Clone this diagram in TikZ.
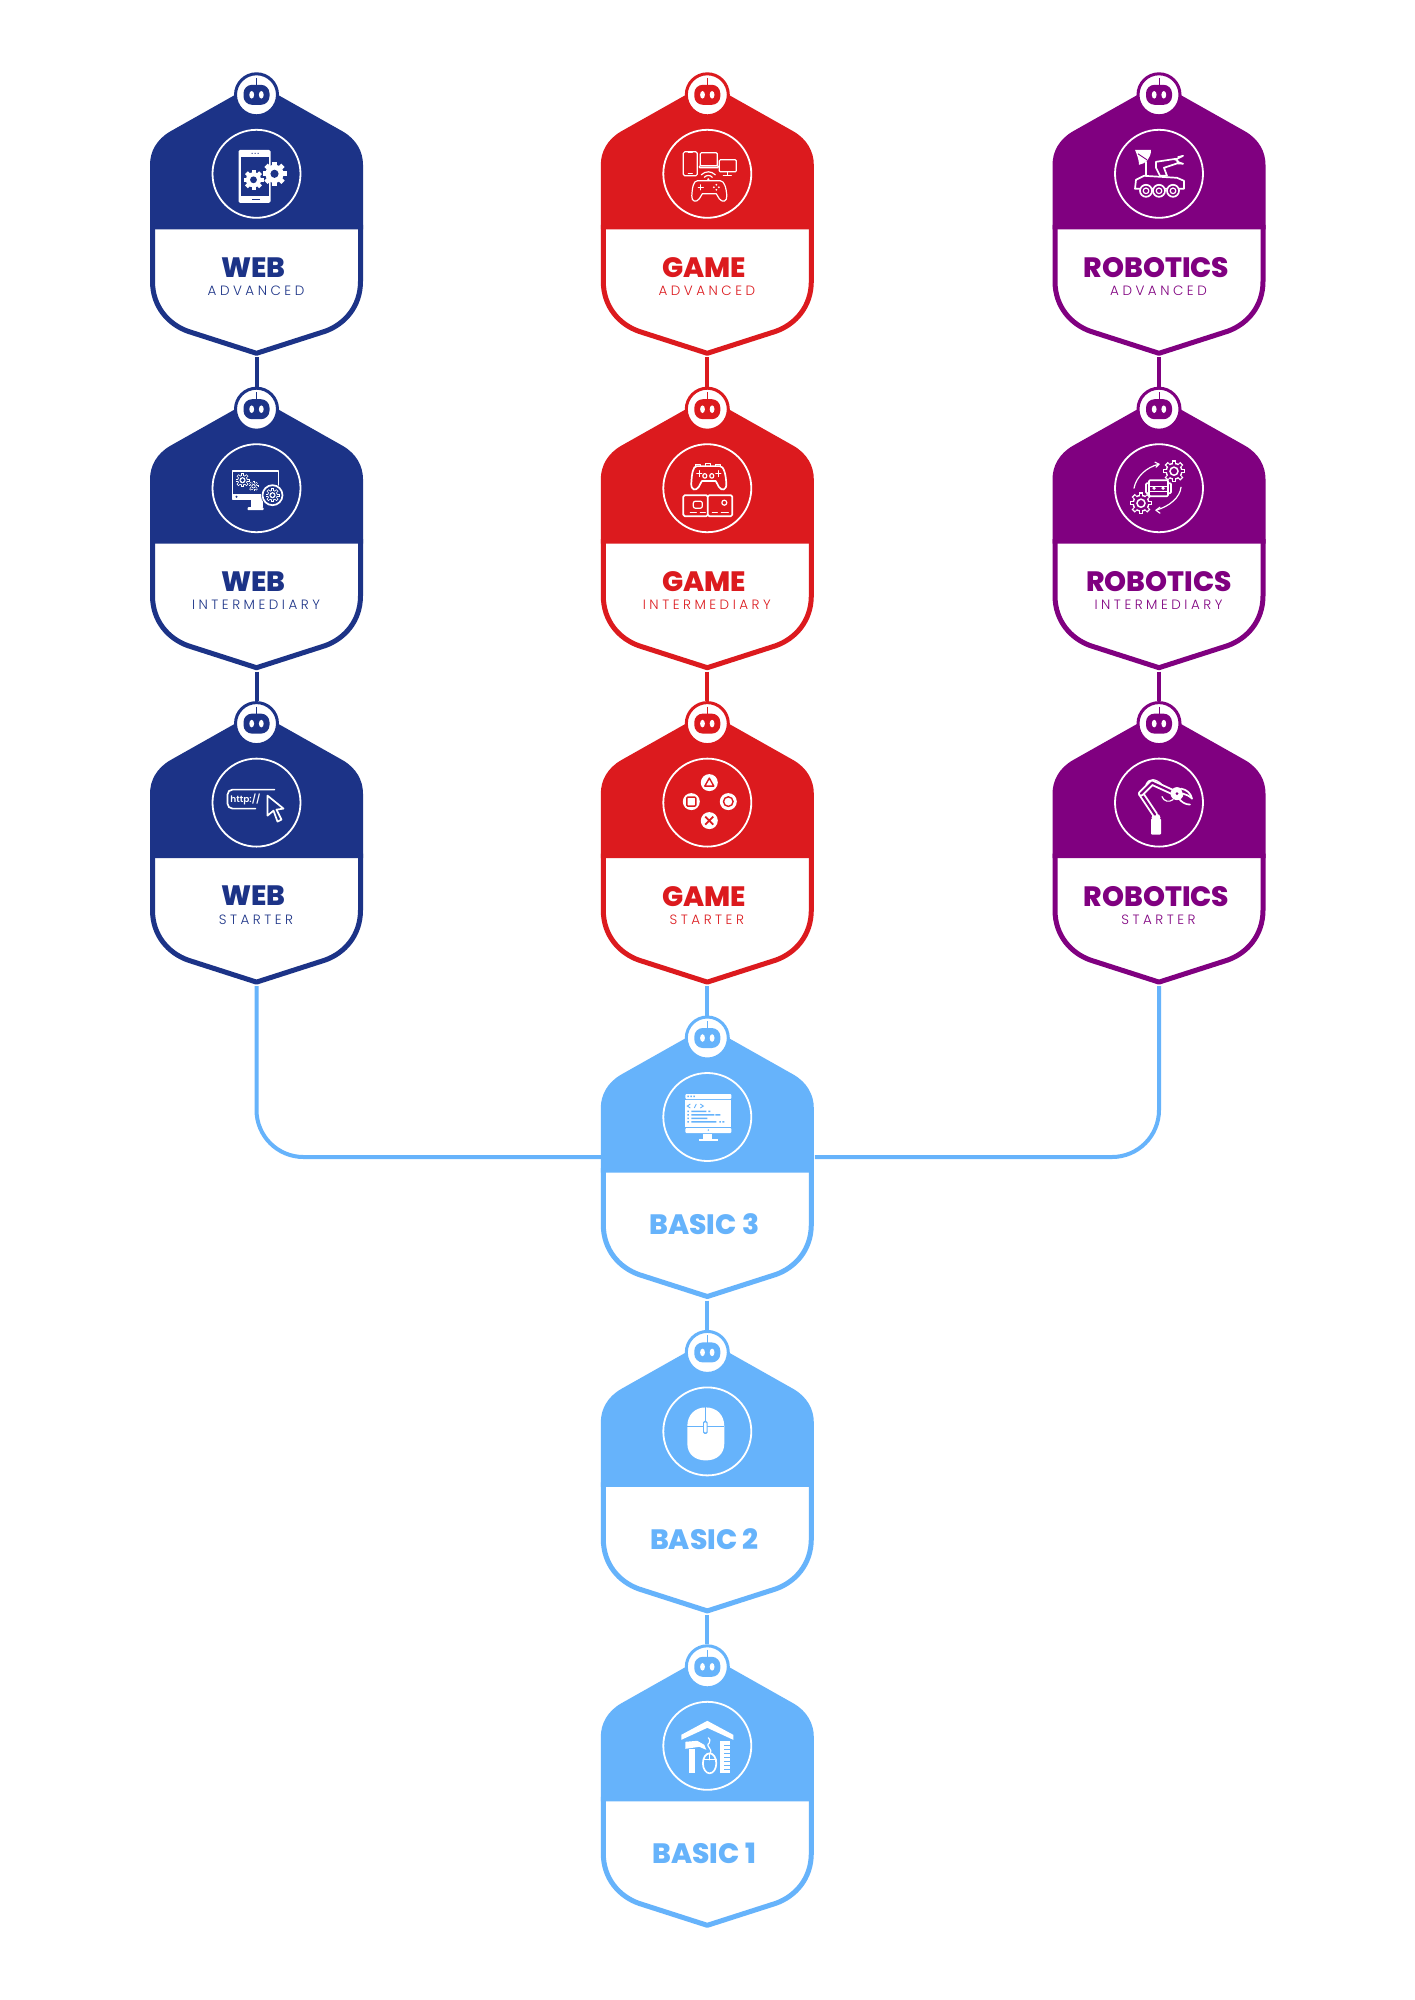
\documentclass[tikz,border=0pt]{standalone}
\usepackage{fontspec}
\setmainfont{Poppins}
\newfontfamily\titlefont{Poppins ExtraBold}
\newfontfamily\subfont[LetterSpace=26]{Poppins Light}
\newfontfamily\httpfont{Poppins SemiBold}
\definecolor{webblue}{HTML}{1C3387}
\definecolor{gamered}{HTML}{DC1A1E}
\definecolor{robopurple}{HTML}{800080}
\definecolor{basicblue}{HTML}{66B3FB}
\tikzset{
  titlelabel/.style={inner sep=0pt,font=\titlefont\fontsize{28}{28}\selectfont},
  sublabel/.style={inner sep=0pt,font=\subfont\fontsize{13.5}{14}\selectfont},
  ringnode/.style={circle,minimum size=42pt,inner sep=0pt,fill=white,line width=3pt},
  iconring/.style={draw=white,line width=1.8pt},
  ol/.style={draw=white,line width=1.2pt,line join=round,line cap=round},
  olb/.style={draw=white,line width=1.7pt,line join=round,line cap=round},
  link/.style={line width=4pt},
}
% filled gear
\newcommand\gearF[3]{\begin{scope}[shift={(#1,#2)}]
  \foreach \a in {0,45,...,315}{\fill[white,rotate=\a] (-.2*#3,.5*#3) rectangle (.2*#3,#3);}
  \fill[white] (0,0) circle ({.76*#3});
  \fill[bc] (0,0) circle ({.34*#3});
\end{scope}}
% outlined gear
\newcommand\gearO[3]{\begin{scope}[shift={(#1,#2)}]
  \foreach \a in {0,45,...,315}{\fill[white,rotate=\a] (-.2*#3,.5*#3) rectangle (.2*#3,#3);}
  \fill[white] (0,0) circle ({.78*#3});
  \foreach \a in {0,45,...,315}{\fill[bc,rotate=\a] (-.1*#3,.5*#3) rectangle (.1*#3,.88*#3);}
  \fill[bc] (0,0) circle ({.64*#3});
  \fill[white] (0,0) circle ({.44*#3});
  \fill[bc] (0,0) circle ({.28*#3});
\end{scope}}
% outlined gamepad, local origin at centre
\newcommand\padshape{(-11,-10.5) -- (12,-10.5) .. controls (16,-10.5) and (18,-3.5) .. (18.5,4.5) .. controls (19,10.5) and (14,11.5) .. (11,7.5) -- (8,2.5) -- (-6,2.5) -- (-9,7.5) .. controls (-12,11.5) and (-17,10.5) .. (-16.5,4.5) .. controls (-16,-3.5) and (-15,-10.5) .. (-11,-10.5) -- cycle}
% ---- icons, in pixels round the centre of the ring
\newcommand\iconphone{
  \fill[white,rounded corners=1.5pt] (-18,-24) rectangle (14,29);
  \fill[bc] (-16,-17) rectangle (12,22);
  \fill[bc] (-5,-21) rectangle (-4,-20) (-2,-21) rectangle (-1,-20) (1,-21) rectangle (2,-20);
  \fill[bc] (-5,25) rectangle (3,26);
  \gearF{-3}{6}{10}\gearF{18}{0}{12}
}
\newcommand\icondevices{
  \draw[ol,rounded corners=1.5pt] (-24,-22) rectangle (-10,2);
  \draw[ol] (-19,-21) -- (-15,-21) (-19,0) -- (-15,0);
  \draw[ol,rounded corners=1pt] (-7,-21) rectangle (10,-8);
  \draw[ol,rounded corners=.8pt] (-8,-8) rectangle (11,-6);
  \draw[ol,rounded corners=1pt] (12,-14) rectangle (29,-2);
  \draw[ol] (20,-2) -- (20,1) (16,2) -- (24,2);
  \draw[ol] (-6,1) .. controls (-2,-3) and (4,-3) .. (8,1);
  \draw[ol] (-3,3.5) .. controls (-1,1) and (3,1) .. (5,3.5);
  \fill[white] (1,5.5) circle (1.2);
  \begin{scope}[shift={(1,17.5)}]
    \draw[ol] \padshape;
    \draw[ol] (-10,-4) -- (-5,-4) (-7.5,-6.5) -- (-7.5,-1.5);
    \fill[white] (8,-6.5) circle (1) (8,-1.5) circle (1) (5.5,-4) circle (1) (10.5,-4) circle (1);
  \end{scope}
}
\newcommand\iconrover{
  \fill[white] (-24,-24) -- (-8,-24) .. controls (-8,-16) and (-13,-10) .. (-20,-9) .. controls (-20,-14) and (-22,-19) .. (-24,-24) -- cycle;
  \draw[bc,line width=.9pt] (-21,-20) -- (-12,-14);
  \draw[olb] (-13,-12) -- (-13,2);
  \draw[olb,fill=bc] (-3,-12) -- (17,-15) -- (20,-11) -- (5,-6) -- (8,2) -- (1,2) -- (-3,-6) -- cycle;
  \draw[olb] (16,-14) -- (24,-18) (18,-12) -- (24,-10);
  \draw[ol] (24,-18) -- (19,-17) (24,-10) -- (19,-10);
  \draw[olb,fill=bc] (-24,15) -- (-23,6) -- (-15,2) -- (18,4) -- (25,7) -- (25,15) -- cycle;
  \foreach \wx in {-13,0,14}{
    \draw[olb,fill=bc] (\wx,17) circle (6);
    \draw[ol] (\wx,17) circle (2.8);
  }
}
\newcommand\iconscreen{
  \draw[olb] (-24,-17) rectangle (22,11);
  \fill[white] (-24,6) rectangle (22,11);
  \fill[bc] (-20,8.5) circle (1.2);
  \fill[white] (-6,11) rectangle (6,19);
  \fill[white,rounded corners=.8pt] (-9,19) rectangle (7,22);
  \gearO{-14}{-8}{7}\gearO{-3}{-2}{5}
  \fill[bc] (16,7) circle (11.5);
  \draw[olb] (16,7) circle (10);
  \gearO{16}{7}{7}
}
\newcommand\iconconsole{
  \draw[olb,rounded corners=1.5pt] (-24,7) rectangle (0.5,28) (0.5,7) rectangle (25,28);
  \draw[ol,rounded corners=2pt] (-14,13) rectangle (-5,20);
  \draw[ol] (-17,24) -- (-11,24) (-7,24) -- (-2,24) (5,24) -- (10,24) (14,24) -- (21,24);
  \draw[ol] (17,14.5) circle (2.5);
  \begin{scope}[shift={(0.5,-10)},yscale=1.15]
    \draw[olb,fill=bc] \padshape;
    \draw[ol] (-11,-4) -- (-6,-4) (-8.5,-6.5) -- (-8.5,-1.5) (8,-4) -- (13,-4) (10.5,-6.5) -- (10.5,-1.5);
    \draw[ol] (-3,-2) circle (2) (4,-2) circle (2);
    \draw[ol] (-12,-12) rectangle (-7,-10.5) (8,-12) rectangle (13,-10.5) (-2,-13) rectangle (3,-10.5);
  \end{scope}
}
\newcommand\iconrobot{
  \draw[ol] (-25,0) .. controls (-23,-11) and (-13,-21) .. (0,-24);
  \draw[ol] (-4,-26) -- (0,-24) -- (-3,-21);
  \draw[ol] (22,-1) .. controls (21,9) and (11,18) .. (-3,22);
  \draw[ol] (1,19) -- (-3,22) -- (1,25);
  \gearO{15}{-17}{11}\gearO{-18}{15}{11}
  \draw[olb,fill=bc,rounded corners=1pt] (-13,-5) rectangle (12,5);
  \draw[olb,fill=bc,rounded corners=1pt] (-10,-8) rectangle (9,8);
  \draw[ol] (-10,-2) rectangle (9,3);
  \fill[white] (-5,0) circle (1.8) (4,0) circle (1.8);
}
\newcommand\iconhttp{
  \draw[olb,rounded corners=5pt] (18,-13) -- (-29,-13) -- (-29,6) -- (-1,6);
  \node[inner sep=0pt,text=white,font=\httpfont\fontsize{9}{9}\selectfont] (httplabel) at (-11,-3.5) {http://};
  \draw[olb,fill=bc] (11,-7) -- (11,13) -- (17,8) -- (21,19) -- (25,17) -- (20,7) -- (27,6) -- cycle;
}
\newcommand\iconbuttons{
  \fill[white] (2,-20) circle (8.5) (-16,-1) circle (8.5) (21,-1) circle (8.5) (2,18) circle (8.5);
  \draw[bc,line width=1.4pt,line join=round] (2,-24.5) -- (6.5,-16.5) -- (-2.5,-16.5) -- cycle;
  \draw[bc,line width=1.4pt,rounded corners=1pt] (-20.5,-5.5) rectangle (-11.5,3.5);
  \draw[bc,line width=1.4pt] (21,-1) circle (4.8);
  \draw[bc,line width=1.8pt] (-2,14) -- (6,22) (6,14) -- (-2,22);
}
\newcommand\iconarm{
  \fill[white,rounded corners=1pt] (-8,16) rectangle (2,32);
  \fill[white] (-3,15) ellipse (4.5 and 4);
  \draw[white,line width=6pt,line cap=round] (-4,12) -- (-18,-9);
  \draw[bc,line width=2.2pt,line cap=round] (-4,12) -- (-18,-9);
  \draw[white,line width=6pt,line cap=round,line join=round] (-18,-9) -- (-7,-20) -- (17,-9);
  \draw[bc,line width=2.2pt,line cap=round,line join=round] (-18,-9) -- (-7,-20) -- (17,-9);
  \draw[ol] (-13,-18) .. controls (-10,-25) and (-3,-24) .. (3,-18);
  \draw[ol] (3,-6) .. controls (5,-1) and (10,0) .. (14,-3);
  \fill[white] (18,-9) circle (6.5);
  \fill[bc] (18,-9) circle (1.5);
  \draw[olb,fill=bc] (22,-14) .. controls (28,-13) and (32,-9) .. (33,-4) .. controls (30,-7) and (27,-8) .. (24,-9);
  \draw[olb] (20,-4) .. controls (22,-1) and (26,2) .. (31,2);
}
\newcommand\iconcode{
  \fill[white,rounded corners=1pt] (-22,-23) rectangle (24,-18);
  \fill[bc] (-20,-21.5) rectangle (-18.5,-20) (-17,-21.5) rectangle (-15.5,-20) (-14,-21.5) rectangle (-12.5,-20);
  \fill[white] (-22,-17) rectangle (24,10);
  \fill[white,rounded corners=1pt] (-22,11) rectangle (24,16);
  \fill[bc] (1,13) circle (.8);
  \draw[bc,line width=.9pt] (-17,-13) -- (-20,-11) -- (-17,-9) (-13,-9) -- (-11,-13) (-7,-13) -- (-4,-11) -- (-7,-9);
  \fill[bc] (-20,-6.5) rectangle (-18.5,-5) (-16,-6.5) rectangle (-1,-5) (1,-6.5) rectangle (3,-5)
    (-20,-3) rectangle (-18.5,-1.5) (-16,-3) rectangle (7,-1.5) (8,-3) rectangle (13,-1.5)
    (-20,.5) rectangle (-18.5,2) (-16,.5) rectangle (0,2)
    (-20,4) rectangle (-18.5,5.5) (-16,4) rectangle (9,5.5) (12,4) rectangle (13.5,5.5) (15,4) rectangle (17,5.5);
  \fill[white] (-4,17) rectangle (5,22);
  \fill[white] (-8,22) rectangle (11,24);
}
\newcommand\iconmouse{
  \fill[white] (-20,-5) .. controls (-20,-17) and (-12,-24) .. (-1.5,-24) .. controls (9,-24) and (17,-17) .. (17,-5) -- (17,12) .. controls (17,23) and (9,29) .. (-1.5,29) .. controls (-12,29) and (-20,23) .. (-20,12) -- cycle;
  \draw[bc,line width=1pt] (-20,-5) -- (17,-5) (-2,-24) -- (-2,-10);
  \fill[bc,rounded corners=1.5pt] (-4.3,-10.5) rectangle (.3,2.5);
  \fill[white,rounded corners=1pt] (-3.3,-9) rectangle (-.7,1);
}
\newcommand\icontools{
  \fill[white] (-26,-11) -- (0,-25) -- (26,-11) -- (26,-6) -- (0,-18) -- (-26,-6) -- cycle;
  \fill[white] (-18,3) rectangle (-12,27);
  \fill[white] (-22,-4) -- (-10,-5) -- (-3,-1) -- (-1,4) -- (-8,1) -- (-22,3) -- cycle;
  \draw[olb,fill=bc] (2.3,17.5) ellipse (6.7 and 10);
  \draw[ol] (-4,14) -- (9,14) (2.3,8) -- (2.3,14);
  \draw[ol] (2.3,8) .. controls (7,3) and (-3,1) .. (2,-3) .. controls (4,-5) and (2,-7) .. (1,-8);
  \fill[white] (13,-5) rectangle (23,27);
  \foreach \ty in {-1,3,...,25}{\fill[bc] (17,\ty) rectangle (23,\ty+.9);}
}
% ---- one badge: name, x, y of the small ring's centre, colour, title, sublabel, icon, title y, title dx
\newcommand\badge[9]{
  \colorlet{bc}{#4}
  \begin{scope}[shift={(#2,#3)}]
    \fill[white] (-104,130) -- (-104,186.5) .. controls (-104,212) and (-88,229.5) .. (-68.5,236.5) -- (0,258.5) -- (68.5,236.5) .. controls (88,229.5) and (104,212) .. (104,186.5) -- (104,130) -- cycle;
    \draw[bc,line width=5pt,line join=round] (-104,130) -- (-104,186.5) .. controls (-104,212) and (-88,229.5) .. (-68.5,236.5) -- (0,258.5) -- (68.5,236.5) .. controls (88,229.5) and (104,212) .. (104,186.5) -- (104,130);
    \fill[bc] (0,-12) -- (86,36.5) .. controls (100,44.5) and (106.5,57) .. (106.5,70) -- (106.5,134.5) -- (-106.5,134.5) -- (-106.5,70) .. controls (-106.5,57) and (-100,44.5) .. (-86,36.5) -- cycle;
    \node[ringnode,draw=bc] (#1-ring) at (0,0) {};
    \fill[bc,rounded corners=8.5pt] (-13,-10) rectangle (13,10);
    \draw[bc,line width=.9pt] (0,-17) -- (0,-9);
    \fill[white] (-4.8,0) ellipse (2.4 and 3.8) (4.8,0) ellipse (2.4 and 3.8);
    \coordinate (#1-tip) at (0,262.5);
    \coordinate (#1-left) at (-106.5,119);
    \coordinate (#1-right) at (107.5,119);
    \begin{scope}[shift={(0,79)}]
      \draw[iconring] (0,0) circle (44);
      #7
    \end{scope}
    \node[titlelabel,text=bc] (#1-title) at (#9,#8) {#5};
    \def\subtxt{#6}
    \ifx\subtxt\empty\else
      \node[sublabel,text=bc] (#1-sub) at (-0.5,195.8) {#6};
    \fi
  \end{scope}
}
\begin{document}
\begin{tikzpicture}[x=1pt,y=-1pt]
  \useasboundingbox (0,0) rectangle (1414,2000);
  \fill[white] (0,0) rectangle (1414,2000);
  \def\colA{256.5}\def\colB{707.3}\def\colC{1159}
  \def\rowA{94.8}\def\rowB{409.2}\def\rowC{723.6}\def\rowD{1038}\def\rowE{1352.4}\def\rowF{1666.8}
  \badge{webA}{\colA}{\rowA}{webblue}{WEB}{ADVANCED}{\iconphone}{172.5}{-3}
  \badge{webI}{\colA}{\rowB}{webblue}{WEB}{INTERMEDIARY}{\iconscreen}{172.5}{-3}
  \badge{webS}{\colA}{\rowC}{webblue}{WEB}{STARTER}{\iconhttp}{172.5}{-3}
  \badge{gameA}{\colB}{\rowA}{gamered}{GAME}{ADVANCED}{\icondevices}{172.5}{-3}
  \badge{gameI}{\colB}{\rowB}{gamered}{GAME}{INTERMEDIARY}{\iconconsole}{172.5}{-3}
  \badge{gameS}{\colB}{\rowC}{gamered}{GAME}{STARTER}{\iconbuttons}{172.5}{-3}
  \badge{roboA}{\colC}{\rowA}{robopurple}{ROBOTICS}{ADVANCED}{\iconrover}{172.5}{-2.5}
  \badge{roboI}{\colC}{\rowB}{robopurple}{ROBOTICS}{INTERMEDIARY}{\iconrobot}{172.5}{0}
  \badge{roboS}{\colC}{\rowC}{robopurple}{ROBOTICS}{STARTER}{\iconarm}{172.5}{-2.5}
  \badge{basicC}{\colB}{\rowD}{basicblue}{BASIC 3}{}{\iconcode}{186.5}{-3}
  \badge{basicB}{\colB}{\rowE}{basicblue}{BASIC 2}{}{\iconmouse}{186.5}{-3}
  \badge{basicA}{\colB}{\rowF}{basicblue}{BASIC 1}{}{\icontools}{186.5}{-3}
  % connectors
  \draw[link,webblue] (webA-tip) -- (webI-ring);
  \draw[link,webblue] (webI-tip) -- (webS-ring);
  \draw[link,gamered] (gameA-tip) -- (gameI-ring);
  \draw[link,gamered] (gameI-tip) -- (gameS-ring);
  \draw[link,robopurple] (roboA-tip) -- (roboI-ring);
  \draw[link,robopurple] (roboI-tip) -- (roboS-ring);
  \draw[link,basicblue] (gameS-tip) -- (basicC-ring);
  \draw[link,basicblue] (basicC-tip) -- (basicB-ring);
  \draw[link,basicblue] (basicB-tip) -- (basicA-ring);
  \draw[link,basicblue,rounded corners=47pt] (webS-tip) |- (basicC-left);
  \draw[link,basicblue,rounded corners=47pt] (roboS-tip) |- (basicC-right);
\end{tikzpicture}
\end{document}
